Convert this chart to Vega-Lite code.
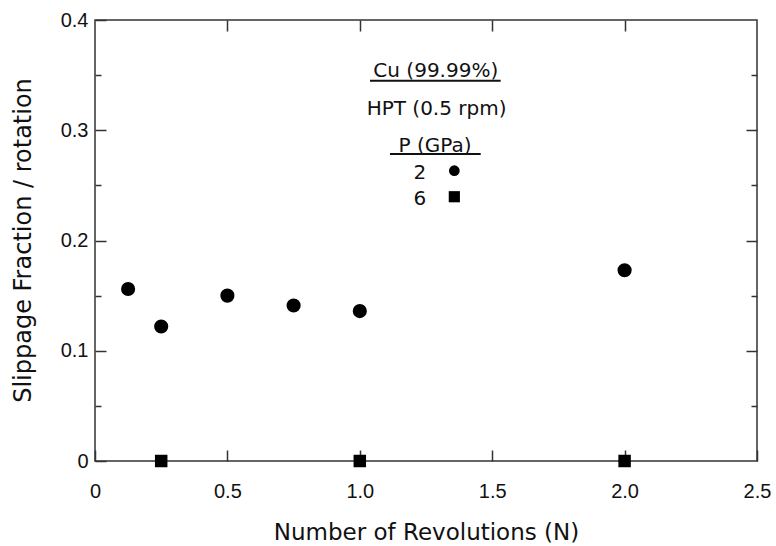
{
  "$schema": "https://vega.github.io/schema/vega-lite/v6.json",
  "width": 662,
  "height": 441,
  "autosize": {"type": "none"},
  "padding": {"left": 95, "top": 20, "right": 19, "bottom": 85},
  "background": "white",
  "config": {
    "view": {"stroke": "#333", "strokeWidth": 1.5},
    "axis": {
      "domain": false,
      "grid": false,
      "tickColor": "#333",
      "tickWidth": 1.5,
      "labelFont": "Liberation Sans",
      "labelFontSize": 20,
      "labelColor": "#111",
      "labelFlush": false,
      "labelOverlap": false,
      "labelBound": false,
      "titleFont": "DejaVu Sans",
      "titleFontWeight": "normal",
      "titleColor": "#111"
    }
  },
  "datasets": {
    "points": [
      {"P": "2", "N": 0.125, "slip": 0.156},
      {"P": "2", "N": 0.25, "slip": 0.122},
      {"P": "2", "N": 0.5, "slip": 0.150},
      {"P": "2", "N": 0.75, "slip": 0.141},
      {"P": "2", "N": 1.0, "slip": 0.136},
      {"P": "2", "N": 2.0, "slip": 0.173},
      {"P": "6", "N": 0.25, "slip": 0},
      {"P": "6", "N": 1.0, "slip": 0},
      {"P": "6", "N": 2.0, "slip": 0}
    ],
    "labels": [
      {"text": "Cu (99.99%)", "N": 1.287, "slip": 0.348},
      {"text": "HPT (0.5 rpm)", "N": 1.290, "slip": 0.3138},
      {"text": "P (GPa)", "N": 1.284, "slip": 0.2805},
      {"text": "2", "N": 1.227, "slip": 0.2558},
      {"text": "6", "N": 1.227, "slip": 0.2322}
    ],
    "underlines": [
      {"N": 1.0385, "N2": 1.532, "slip": 0.3449},
      {"N": 1.114, "N2": 1.4566, "slip": 0.2785}
    ],
    "keys": [
      {"P": "2", "N": 1.357, "slip": 0.2633},
      {"P": "6", "N": 1.357, "slip": 0.2397}
    ]
  },
  "resolve": {"axis": {"x": "independent", "y": "independent"}},
  "layer": [
    {
      "data": {"name": "points"},
      "transform": [{"filter": "datum.P == '2'"}],
      "mark": {"type": "point", "shape": "circle", "filled": true, "color": "#000", "size": 200, "opacity": 1},
      "encoding": {
        "x": {
          "field": "N", "type": "quantitative",
          "scale": {"domain": [0, 2.5], "nice": false, "zero": false},
          "axis": {
            "orient": "bottom",
            "values": [0, 0.5, 1, 1.5, 2, 2.5],
            "labelExpr": "datum.value == 0 ? '0' : format(datum.value, '.1f')",
            "tickSize": -11,
            "labelPadding": 31,
            "title": "Number of Revolutions (N)",
            "titleFontSize": 23,
            "titleX": 331,
            "titleY": 78,
            "titleAlign": "center",
            "titleBaseline": "alphabetic"
          }
        },
        "y": {
          "field": "slip", "type": "quantitative",
          "scale": {"domain": [0, 0.4], "nice": false, "zero": false},
          "axis": {
            "orient": "left",
            "values": [0, 0.1, 0.2, 0.3, 0.4],
            "labelExpr": "datum.value == 0 ? '0' : format(datum.value, '.1f')",
            "tickSize": -11,
            "labelPadding": 18,
            "title": "Slippage Fraction / rotation",
            "titleFontSize": 24,
            "titleX": -72,
            "titleY": 220,
            "titleAngle": 270,
            "titleAlign": "center",
            "titleBaseline": "middle"
          }
        }
      }
    },
    {
      "data": {"name": "labels"},
      "mark": {"type": "text", "font": "DejaVu Sans", "fontSize": 20, "align": "center", "baseline": "alphabetic", "color": "#111"},
      "encoding": {
        "x": {"field": "N", "type": "quantitative", "scale": {"domain": [0, 2.5], "nice": false, "zero": false}, "axis": null},
        "y": {"field": "slip", "type": "quantitative", "scale": {"domain": [0, 0.4], "nice": false, "zero": false}, "axis": null},
        "text": {"field": "text", "type": "nominal"}
      }
    },
    {
      "data": {"name": "underlines"},
      "mark": {"type": "rule", "color": "#111", "strokeWidth": 2},
      "encoding": {
        "x": {"field": "N", "type": "quantitative", "scale": {"domain": [0, 2.5], "nice": false, "zero": false}, "axis": null},
        "x2": {"field": "N2"},
        "y": {"field": "slip", "type": "quantitative", "scale": {"domain": [0, 0.4], "nice": false, "zero": false}, "axis": null}
      }
    },
    {
      "data": {"name": "keys"},
      "transform": [{"filter": "datum.P == '2'"}],
      "mark": {"type": "point", "shape": "circle", "filled": true, "color": "#000", "size": 115, "opacity": 1},
      "encoding": {
        "x": {"field": "N", "type": "quantitative", "scale": {"domain": [0, 2.5], "nice": false, "zero": false}, "axis": null},
        "y": {"field": "slip", "type": "quantitative", "scale": {"domain": [0, 0.4], "nice": false, "zero": false}, "axis": null}
      }
    },
    {
      "data": {"name": "keys"},
      "transform": [{"filter": "datum.P == '6'"}],
      "mark": {"type": "point", "shape": "square", "filled": true, "color": "#000", "size": 125, "opacity": 1},
      "encoding": {
        "x": {"field": "N", "type": "quantitative", "scale": {"domain": [0, 2.5], "nice": false, "zero": false}, "axis": null},
        "y": {"field": "slip", "type": "quantitative", "scale": {"domain": [0, 0.4], "nice": false, "zero": false}, "axis": null}
      }
    },
    {
      "data": {"name": "points"},
      "transform": [{"filter": "datum.P == '6'"}],
      "mark": {"type": "point", "shape": "square", "filled": true, "color": "#000", "size": 156, "opacity": 1},
      "encoding": {
        "x": {
          "field": "N", "type": "quantitative",
          "scale": {"domain": [0, 2.5], "nice": false, "zero": false},
          "axis": {"orient": "top", "values": [0.5, 1, 1.5, 2], "tickSize": -11, "labels": false, "title": null}
        },
        "y": {
          "field": "slip", "type": "quantitative",
          "scale": {"domain": [0, 0.4], "nice": false, "zero": false},
          "axis": {"orient": "right", "values": [0.1, 0.2, 0.3], "tickSize": -11, "labels": false, "title": null}
        }
      }
    },
    {
      "data": {"name": "points"},
      "mark": {"type": "point", "opacity": 0},
      "encoding": {
        "x": {"field": "N", "type": "quantitative", "scale": {"domain": [0, 2.5], "nice": false, "zero": false}, "axis": null},
        "y": {
          "field": "slip", "type": "quantitative",
          "scale": {"domain": [0, 0.4], "nice": false, "zero": false},
          "axis": {"orient": "left", "values": [0.05, 0.15, 0.25, 0.35], "tickSize": -6, "labels": false, "title": null}
        }
      }
    },
    {
      "data": {"name": "points"},
      "mark": {"type": "point", "opacity": 0},
      "encoding": {
        "x": {"field": "N", "type": "quantitative", "scale": {"domain": [0, 2.5], "nice": false, "zero": false}, "axis": null},
        "y": {
          "field": "slip", "type": "quantitative",
          "scale": {"domain": [0, 0.4], "nice": false, "zero": false},
          "axis": {"orient": "right", "values": [0.05, 0.15, 0.25, 0.35], "tickSize": -6, "labels": false, "title": null}
        }
      }
    }
  ]
}
